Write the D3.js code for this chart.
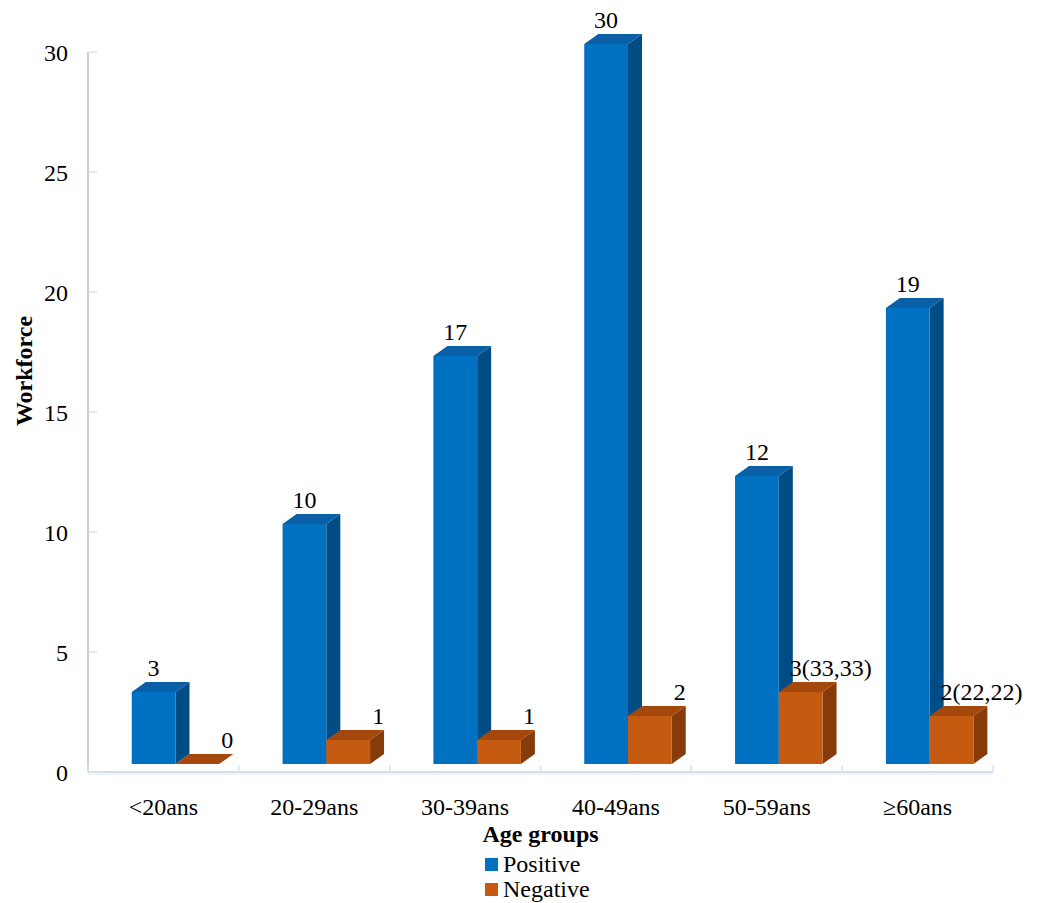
<!DOCTYPE html>
<html>
<head>
<meta charset="utf-8">
<script src="https://cdn.jsdelivr.net/npm/d3@7"></script>
<style>
  html, body { margin: 0; padding: 0; background: #fff; }
  svg { display: block; }
</style>
</head>
<body>
<svg id="chart" width="1037" height="903"></svg>
<script>
const categories = ["<20ans", "20-29ans", "30-39ans", "40-49ans", "50-59ans", "\u226560ans"];
const positive = [3, 10, 17, 30, 12, 19];
const negative = [0, 1, 1, 2, 3, 2];
const positiveLabels = ["3", "10", "17", "30", "12", "19"];
const negativeLabels = ["0", "1", "1", "2", "3(33,33)", "2(22,22)"];
const yTicks = [0, 5, 10, 15, 20, 25, 30];
const seriesNames = ["Positive", "Negative"];

const colors = {
  Positive: { front: "#0070C0", side: "#004C84", top: "#0A5FA6" },
  Negative: { front: "#C55A11", side: "#873B0B", top: "#A5480D" }
};

const FONT = "'Liberation Serif', 'Times New Roman', Times, 'DejaVu Serif', serif";
const svg = d3.select("#chart").attr("font-family", FONT);
const depthX = 14, depthY = -10;

const x = d3.scaleBand().domain(categories).range([88, 993]).padding(0);
const yFront = d3.scaleLinear().domain([0, 30]).range([764, 44]);
const yAxisScale = d3.scaleLinear().domain([0, 30]).range([772, 52]);

// vertical axis line (back wall)
svg.append("line")
  .attr("x1", 88).attr("x2", 88)
  .attr("y1", yAxisScale(30)).attr("y2", yAxisScale(0))
  .attr("stroke", "#BFBFBF").attr("stroke-width", 1.5);

// floor line
svg.append("line")
  .attr("x1", 88).attr("x2", x.range()[1])
  .attr("y1", yAxisScale(0)).attr("y2", yAxisScale(0))
  .attr("stroke", "#C9D3DF").attr("stroke-width", 1.5);
svg.append("line")
  .attr("x1", 88).attr("x2", x.range()[1])
  .attr("y1", yAxisScale(0) + 2).attr("y2", yAxisScale(0) + 2)
  .attr("stroke", "#E4E8EE").attr("stroke-width", 1);

// x category ticks
const bounds = categories.map(c => x(c)).concat([x.range()[1]]);
svg.selectAll(".xtick").data(bounds).enter().append("line")
  .attr("x1", d => d).attr("x2", d => d)
  .attr("y1", yAxisScale(0) - 7).attr("y2", yAxisScale(0))
  .attr("stroke", "#D6E4F2").attr("stroke-width", 1.5);

// y ticks
svg.selectAll(".ytick").data(yTicks).enter().append("line")
  .attr("x1", 89).attr("x2", 97)
  .attr("y1", d => yAxisScale(d)).attr("y2", d => yAxisScale(d))
  .attr("stroke", "#D6E4F2").attr("stroke-width", 1.5);

svg.selectAll(".ylab").data(yTicks).enter().append("text")
  .attr("x", 68).attr("y", d => yAxisScale(d) + 9)
  .attr("text-anchor", "end")
  .attr("font-family", FONT)
  .style("font-size", "24px")
  .text(d => d);

// bars
const bw = x.bandwidth() * 0.29;
const barData = [];
categories.forEach((c, i) => {
  const x0 = x(c) + x.bandwidth() * 0.29;
  barData.push({ s: "Positive", x: x0, v: positive[i], label: positiveLabels[i], i });
  barData.push({ s: "Negative", x: x0 + bw, v: negative[i], label: negativeLabels[i], i });
});

function drawBar(d) {
  const g = svg.append("g");
  const xl = d.x, xr = d.x + bw;
  const yt = yFront(d.v), yb = yFront(0);
  const c = colors[d.s];
  g.append("path")
    .attr("d", `M${xr},${yt} L${xr + depthX},${yt + depthY} L${xr + depthX},${yb + depthY} L${xr},${yb} Z`)
    .attr("fill", c.side);
  g.append("path")
    .attr("d", `M${xl},${yt} L${xl + depthX},${yt + depthY} L${xr + depthX},${yt + depthY} L${xr},${yt} Z`)
    .attr("fill", c.top);
  if (d.v > 0) {
    g.append("rect")
      .attr("x", xl).attr("y", yt)
      .attr("width", bw).attr("height", yb - yt)
      .attr("fill", c.front);
  }
}
categories.forEach((c, i) => {
  drawBar(barData[i * 2]);
  drawBar(barData[i * 2 + 1]);
});

// data labels
barData.forEach(d => {
  const cx = d.s === "Positive" ? d.x + bw / 2 : d.x + bw / 2 + 30;
  svg.append("text")
    .attr("x", cx)
    .attr("y", yFront(d.v) + depthY - 6)
    .attr("text-anchor", "middle")
    .attr("font-family", FONT)
    .style("font-size", "24px")
    .text(d.label);
});

// x labels
svg.selectAll(".xlab").data(categories).enter().append("text")
  .attr("x", d => x(d) + x.bandwidth() / 2)
  .attr("y", 815)
  .attr("text-anchor", "middle")
  .attr("font-family", FONT)
  .style("font-size", "24px")
  .text(d => d);

// axis titles
svg.append("text")
  .attr("x", (x.range()[0] + x.range()[1]) / 2)
  .attr("y", 842)
  .attr("text-anchor", "middle")
  .attr("font-family", FONT)
  .style("font-size", "24px").style("font-weight", "bold")
  .text("Age groups");

svg.append("text")
  .attr("transform", "translate(32,371) rotate(-90)")
  .attr("text-anchor", "middle")
  .attr("font-family", FONT)
  .style("font-size", "24px").style("font-weight", "bold")
  .text("Workforce");

// legend
const legend = svg.append("g");
seriesNames.forEach((s, i) => {
  legend.append("rect")
    .attr("x", 485).attr("y", 858 + i * 25)
    .attr("width", 13).attr("height", 13)
    .attr("fill", colors[s].front);
  legend.append("text")
    .attr("x", 503).attr("y", 872 + i * 25)
    .attr("font-family", FONT)
    .style("font-size", "24px")
    .text(s);
});
</script>
</body>
</html>
